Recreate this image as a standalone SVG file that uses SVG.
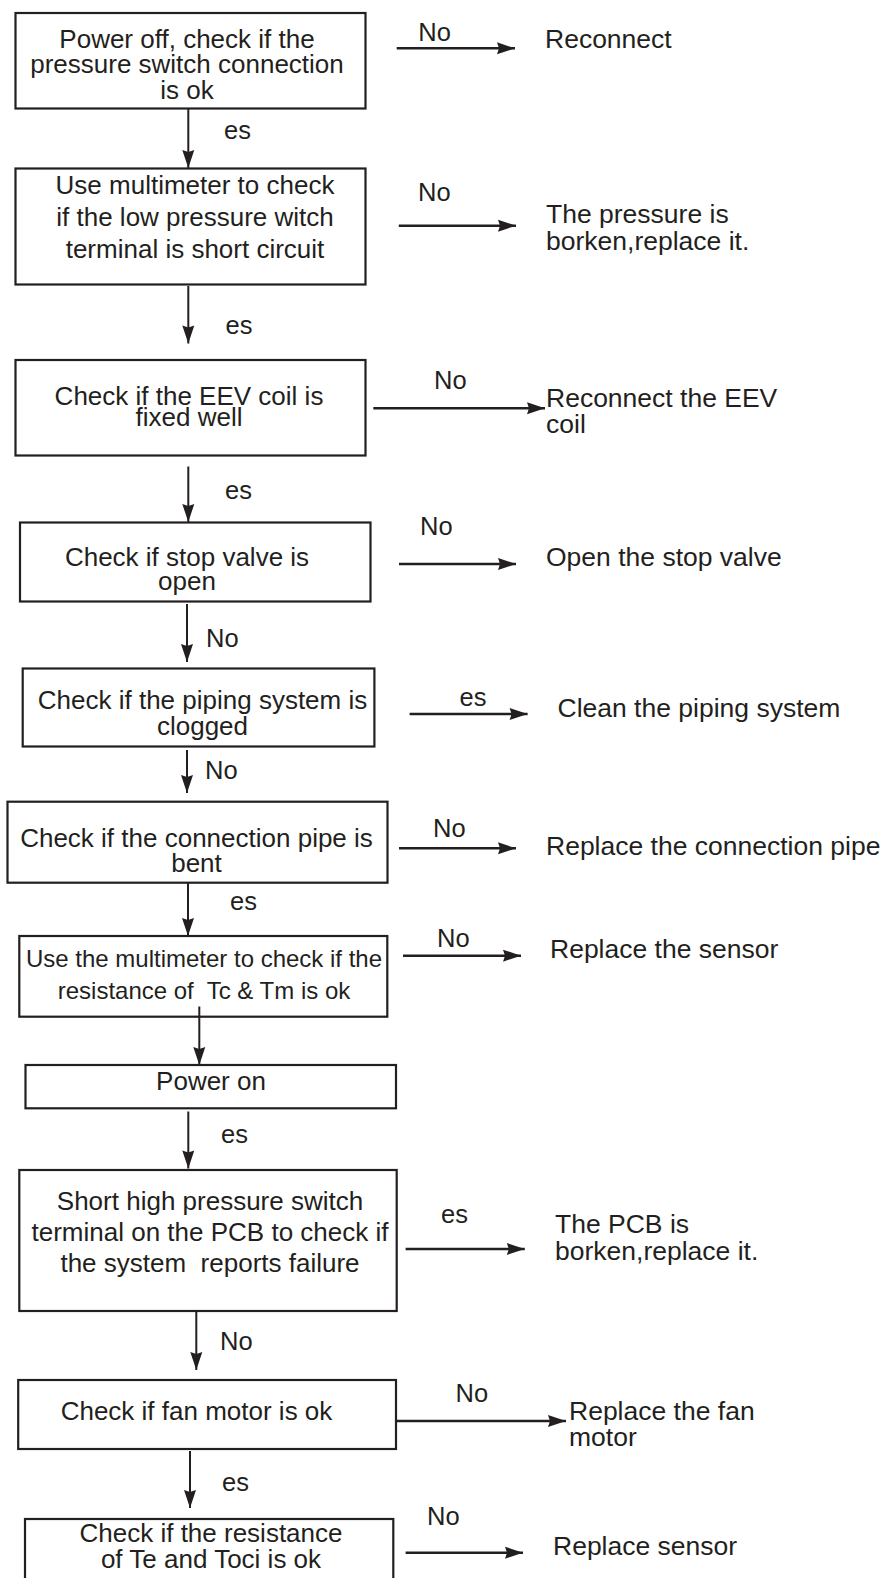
<svg xmlns="http://www.w3.org/2000/svg" width="885" height="1578" viewBox="0 0 885 1578">
<style>
.box{fill:none;stroke:#231f20;stroke-width:2.2}
.t{font-family:"Liberation Sans",Arial,sans-serif;font-size:26px;fill:#231f20;text-anchor:middle}
.s{font-family:"Liberation Sans",Arial,sans-serif;font-size:26.5px;fill:#231f20}
.l{font-family:"Liberation Sans",Arial,sans-serif;font-size:25.5px;fill:#231f20}
.c{fill:none;stroke:#231f20;stroke-width:2;marker-end:url(#ah)}
.h{stroke-width:2.4}
</style>
<defs>
<marker id="ah" markerUnits="userSpaceOnUse" markerWidth="20" markerHeight="14" refX="18" refY="6" orient="auto" overflow="visible">
<path d="M0,0 L18,6 L0,12 L2,6 Z" fill="#231f20"/>
</marker>
</defs>
<rect width="885" height="1578" fill="#ffffff"/>

<g id="n1">
<rect class="box" x="15.5" y="13" width="350" height="95.5"/>
<text class="t" x="187" y="48">Power off, check if the</text>
<text class="t" x="187" y="73">pressure switch connection</text>
<text class="t" x="187" y="99">is ok</text>
</g>
<g id="r1"><text class="s" x="545" y="48">Reconnect</text></g>

<g id="n2">
<rect class="box" x="15.5" y="168.5" width="350" height="116"/>
<text class="t" x="195" y="194">Use multimeter to check</text>
<text class="t" x="195" y="226">if the low pressure witch</text>
<text class="t" x="195" y="258">terminal is short circuit</text>
</g>
<g id="r2">
<text class="s" x="546" y="223">The pressure is</text>
<text class="s" x="546" y="250">borken,replace it.</text>
</g>

<g id="n3">
<rect class="box" x="15.5" y="360" width="350" height="95.5"/>
<text class="t" x="189" y="405">Check if the EEV coil is</text>
<text class="t" x="189" y="426">fixed well</text>
</g>
<g id="r3">
<text class="s" x="546" y="406.5">Reconnect the EEV</text>
<text class="s" x="546" y="433">coil</text>
</g>

<g id="n4">
<rect class="box" x="20" y="522.5" width="350.5" height="79"/>
<text class="t" x="187" y="566">Check if stop valve is</text>
<text class="t" x="187" y="590">open</text>
</g>
<g id="r4"><text class="s" x="546" y="565.5">Open the stop valve</text></g>

<g id="n5">
<rect class="box" x="22.7" y="668.5" width="351.7" height="78"/>
<text class="t" x="202.5" y="709">Check if the piping system is</text>
<text class="t" x="202.5" y="735">clogged</text>
</g>
<g id="r5"><text class="s" x="557.5" y="716.5">Clean the piping system</text></g>

<g id="n6">
<rect class="box" x="7.5" y="801.7" width="380" height="81"/>
<text class="t" x="196.5" y="846.5">Check if the connection pipe is</text>
<text class="t" x="196.5" y="871.5">bent</text>
</g>
<g id="r6"><text class="s" x="546" y="855">Replace the connection pipe</text></g>

<g id="n7">
<rect class="box" x="19.3" y="936" width="368" height="80.7"/>
<text class="t" x="204" y="967" style="font-size:24px">Use the multimeter to check if the</text>
<text class="t" x="204" y="999" style="font-size:24px" xml:space="preserve">resistance of  Tc &amp; Tm is ok</text>
</g>
<g id="r7"><text class="s" x="550" y="958">Replace the sensor</text></g>

<g id="n8">
<rect class="box" x="25.5" y="1065" width="370.5" height="43.3"/>
<text class="t" x="211" y="1090">Power on</text>
</g>

<g id="n9">
<rect class="box" x="19.3" y="1170" width="377.4" height="141"/>
<text class="t" x="210" y="1210">Short high pressure switch</text>
<text class="t" x="210" y="1240.5">terminal on the PCB to check if</text>
<text class="t" x="210" y="1272" xml:space="preserve">the system  reports failure</text>
</g>
<g id="r9">
<text class="s" x="555" y="1233">The PCB is</text>
<text class="s" x="555" y="1260">borken,replace it.</text>
</g>

<g id="n10">
<rect class="box" x="18.2" y="1380" width="377.8" height="69"/>
<text class="t" x="196.5" y="1420">Check if fan motor is ok</text>
</g>
<g id="r10">
<text class="s" x="569" y="1420">Replace the fan</text>
<text class="s" x="569" y="1446">motor</text>
</g>

<g id="n11">
<rect class="box" x="25" y="1519" width="368.3" height="80"/>
<text class="t" x="211" y="1542">Check if the resistance</text>
<text class="t" x="211" y="1568">of Te and Toci is ok</text>
</g>
<g id="r11"><text class="s" x="553" y="1555">Replace sensor</text></g>

<g id="connectors">
<line class="c" x1="188.3" y1="109" x2="188.3" y2="168"/>
<line class="c" x1="188.3" y1="286" x2="188.3" y2="343.5"/>
<line class="c" x1="188.3" y1="466.5" x2="188.3" y2="522"/>
<line class="c" x1="187" y1="604" x2="187" y2="662"/>
<line class="c" x1="187" y1="750" x2="187" y2="793"/>
<line class="c" x1="188" y1="883" x2="188" y2="936"/>
<line class="c" x1="199.3" y1="1006.5" x2="199.3" y2="1065"/>
<line class="c" x1="188.3" y1="1111.5" x2="188.3" y2="1168.5"/>
<line class="c" x1="196.3" y1="1311" x2="196.3" y2="1370"/>
<line class="c" x1="190" y1="1451" x2="190" y2="1508"/>

<line class="c h" x1="396.7" y1="48.3" x2="515" y2="48.3"/>
<line class="c h" x1="398.8" y1="225.7" x2="516" y2="225.7"/>
<line class="c h" x1="373.3" y1="408.3" x2="545" y2="408.3"/>
<line class="c h" x1="399" y1="564" x2="516" y2="564"/>
<line class="c h" x1="409.6" y1="714" x2="527.6" y2="714"/>
<line class="c h" x1="399" y1="848.3" x2="516" y2="848.3"/>
<line class="c h" x1="403" y1="955.7" x2="521" y2="955.7"/>
<line class="c h" x1="405.6" y1="1249" x2="524.8" y2="1249"/>
<line class="c h" x1="396" y1="1421" x2="566" y2="1421"/>
<line class="c h" x1="405.6" y1="1552.7" x2="523" y2="1552.7"/>

<text class="l" x="224" y="138.5">es</text>
<text class="l" x="225.5" y="333.5">es</text>
<text class="l" x="225" y="499">es</text>
<text class="l" x="206" y="646.5">No</text>
<text class="l" x="205" y="778.5">No</text>
<text class="l" x="230" y="910">es</text>
<text class="l" x="221" y="1142.5">es</text>
<text class="l" x="220" y="1350">No</text>
<text class="l" x="222" y="1490.5">es</text>

<text class="l" x="418.3" y="41">No</text>
<text class="l" x="418" y="201">No</text>
<text class="l" x="434" y="389.3">No</text>
<text class="l" x="420" y="535">No</text>
<text class="l" x="459.5" y="706">es</text>
<text class="l" x="433" y="837.3">No</text>
<text class="l" x="437" y="946.7">No</text>
<text class="l" x="441" y="1223.3">es</text>
<text class="l" x="455.6" y="1401.7">No</text>
<text class="l" x="427" y="1525">No</text>
</g>
</svg>
